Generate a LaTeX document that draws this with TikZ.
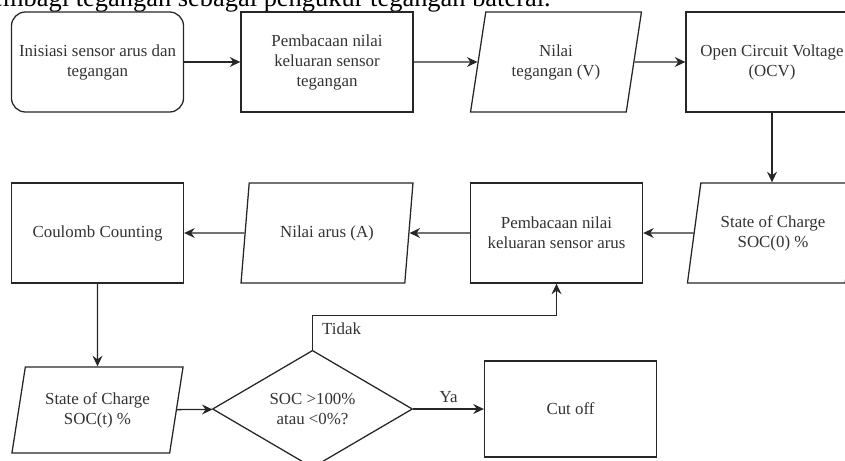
\documentclass[tikz,border=0pt]{standalone}
\usepackage{fontspec}
\setmainfont{Liberation Serif}
\usepackage{xcolor}
\colorlet{colLine}{black!85}
\colorlet{colText}{black!80}
\usepackage{tikz}
\usetikzlibrary{arrows.meta, positioning, calc, shapes.geometric}

\tikzset{
  base/.style={draw=colLine, line width=0.9pt, text=colText, align=center,
    font=\fontsize{12}{14.2}\selectfont, inner sep=2pt},
  startbox/.style={base, rectangle, rounded corners=10pt, minimum width=4.3cm, minimum height=2.5cm},
  procbox/.style={base, rectangle, minimum width=4.3cm, minimum height=2.5cm},
  iobox/.style={base, trapezium, trapezium left angle=76, trapezium right angle=104,
    trapezium stretches=true, minimum width=4.3cm, minimum height=2.5cm},
  decbox/.style={base, diamond, minimum width=5cm, minimum height=2.85cm, inner sep=0pt},
  arr/.style={draw=colLine, line width=0.9pt, -{Stealth[length=7.5pt, width=7pt, inset=2.5pt]}},
  lbl/.style={text=colText, font=\fontsize{12}{14.2}\selectfont}
}

\begin{document}
\begin{tikzpicture}[x=0.025cm, y=-0.025cm]
  \useasboundingbox (0,0) rectangle (845,460);
  \clip (0,0) rectangle (845,460);
  % cut line of the page text above the chart
  \node[anchor=base east, inner sep=0pt, font=\fontsize{18.8}{20}\selectfont] (pagetxt) at (551,6)
    {membagi tegangan sebagai pengukur tegangan baterai.};
  % first row
  \node[startbox] (init) at (97.5,62) {Inisiasi sensor arus dan\\tegangan};
  \node[procbox] (readv) at (327,62) {Pembacaan nilai\\keluaran sensor\\tegangan};
  \node[iobox] (volt) at (556,62) {Nilai\\tegangan (V)};
  \node[procbox] (ocv) at (772,62) {Open Circuit Voltage\\(OCV)};
  % second row
  \node[iobox] (soczero) at (773,233) {State of Charge\\SOC(0) \%};
  \node[procbox] (readi) at (556.5,233) {Pembacaan nilai\\keluaran sensor arus};
  \node[iobox] (amp) at (327,233) {Nilai arus (A)};
  \node[procbox] (coulomb) at (97.5,233) {Coulomb Counting};
  % third row
  \node[iobox, minimum height=2.15cm] (soct) at (97.5,410) {State of Charge\\SOC(t) \%};
  \node[decbox] (check) at (312.5,409) {SOC >100\%\\atau <0\%?};
  \node[procbox, minimum height=2.4cm] (cutoff) at (570.5,409) {Cut off};

  \draw[arr] (init) -- (readv);
  \draw[arr] (readv) -- (volt);
  \draw[arr] (volt) -- (ocv);
  \draw[arr] (ocv.south) -- (soczero.north -| ocv.south);
  \draw[arr] (soczero) -- (readi);
  \draw[arr] (readi) -- (amp);
  \draw[arr] (amp) -- (coulomb);
  \draw[arr] (coulomb) -- (soct);
  \draw[arr] (soct) -- (check);
  \draw[arr] (check) -- node[lbl, above, yshift=1pt] (yes) {Ya} (cutoff);
  \draw[arr] (check.north) -- ++(0,-34) coordinate (bend) -| (readi.south);
  \node[lbl, anchor=north west, inner sep=1pt] (no) at ($(bend)+(8,5)$) {Tidak};
\end{tikzpicture}
\end{document}
